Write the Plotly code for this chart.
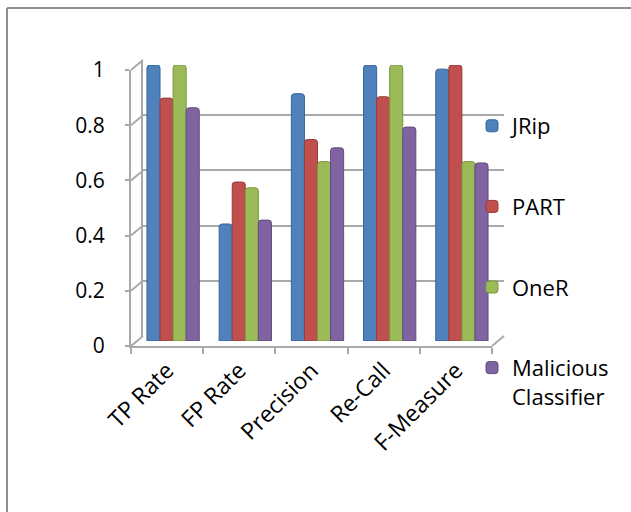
import plotly.graph_objects as go

# ---- data -------------------------------------------------------------
metrics = ["TP Rate", "FP Rate", "Precision", "Re-Call", "F-Measure"]
jrip = [1.0, 0.424, 0.896, 1.0, 0.985]
part = [0.88, 0.576, 0.73, 0.885, 1.0]
oner = [1.0, 0.555, 0.65, 1.0, 0.65]
malicious = [0.845, 0.438, 0.70, 0.775, 0.645]

series_names = ["JRip", "PART", "OneR", "Malicious<br>Classifier"]
series_values = [jrip, part, oner, malicious]
series_colors = ["#4F81BD", "#C0504D", "#9BBB59", "#8064A2"]
series_edges = ["#3A6497", "#9A3B38", "#7A9640", "#63497F"]

y_ticks = [0, 0.2, 0.4, 0.6, 0.8, 1.0]

# ---- page geometry (pixels) --------------------------------------------
W, H = 631, 512
FX0, FX1 = 131, 492        # front face, left / right
FY0, FY1 = 346, 70         # front face, value 0 / value 1
DX, DY = 12, -10           # depth offset of the back wall


def px(x):
    return x / W


def py(y):
    return 1 - y / H


def dom_x(shift):
    return [px(FX0 + shift), px(FX1 + shift)]


def dom_y(shift):
    return [py(FY0 + shift), py(FY1 + shift)]


FONT = "Open Sans, Noto Sans, sans-serif"
GRID = "#a9a9a9"

fig = go.Figure()

# empty carriers so the back-wall and front-face subplots get drawn
for xa, ya in (("x", "y"), ("x2", "y2")):
    fig.add_trace(go.Scatter(x=metrics, y=[None] * len(metrics), mode="lines",
                             xaxis=xa, yaxis=ya, showlegend=False,
                             hoverinfo="skip"))

# bars sit half way between the front face and the back wall
for name, vals, col, edge in zip(series_names, series_values, series_colors, series_edges):
    fig.add_trace(go.Bar(
        x=metrics, y=vals, name=name,
        marker=dict(color=col, line=dict(color=edge, width=1)),
        xaxis="x3", yaxis="y3", legendgroup=name,
    ))

common = dict(automargin=False, zeroline=False, fixedrange=True)

layout_axes = dict(
    # back wall: horizontal grid lines
    xaxis=dict(domain=dom_x(DX), range=[-0.5, 4.5], type="category",
               categoryarray=metrics, showgrid=False, showline=False,
               showticklabels=False, anchor="y", **common),
    yaxis=dict(domain=dom_y(DY), range=[0, 1], tickvals=y_ticks, showgrid=True,
               gridcolor=GRID, gridwidth=2, showline=True, linecolor=GRID, linewidth=2,
               showticklabels=False, anchor="x", **common),
    # front face: axis lines, ticks and labels
    xaxis2=dict(domain=dom_x(0), range=[-0.5, 4.5], type="category",
                categoryarray=metrics, showgrid=False, showline=True,
                linecolor=GRID, linewidth=2, ticks="outside", tickson="boundaries",
                ticklen=6, tickcolor=GRID, tickwidth=2, tickangle=-45,
                tickfont=dict(family=FONT, size=23, color="#000000"),
                anchor="y2", **common),
    yaxis2=dict(domain=dom_y(0), range=[0, 1], tickvals=y_ticks,
                showgrid=False, showline=True, linecolor=GRID, linewidth=2,
                ticks="outside", ticklen=4, tickcolor=GRID, tickwidth=2,
                ticklabelstandoff=16,
                tickfont=dict(family=FONT, size=21, color="#000000"),
                anchor="x2", **common),
    # bar layer, half the depth offset
    xaxis3=dict(domain=dom_x(DX / 2), range=[-0.5, 4.5], type="category",
                categoryarray=metrics, showgrid=False, showline=False,
                showticklabels=False, anchor="y3", **common),
    yaxis3=dict(domain=dom_y(DY / 2), range=[0, 1], showgrid=False, showline=False,
                showticklabels=False, anchor="x3", **common),
)

# side wall and floor edges joining the front face to the back wall
shapes = []
for v in y_ticks:
    yf = FY0 + (FY1 - FY0) * v
    shapes.append(dict(type="line", xref="paper", yref="paper",
                       x0=px(FX0), y0=py(yf), x1=px(FX0 + DX), y1=py(yf + DY),
                       line=dict(color=GRID, width=2)))
shapes.append(dict(type="line", xref="paper", yref="paper",
                   x0=px(FX1), y0=py(FY0), x1=px(FX1 + DX), y1=py(FY0 + DY),
                   line=dict(color=GRID, width=2)))
# chart frame (left and top edges)
shapes.append(dict(type="line", xref="paper", yref="paper",
                   x0=px(7), y0=py(8), x1=px(7), y1=0,
                   line=dict(color="#8f8f8f", width=2)))
shapes.append(dict(type="line", xref="paper", yref="paper",
                   x0=px(7), y0=py(8), x1=1, y1=py(8),
                   line=dict(color="#8f8f8f", width=2)))

fig.update_layout(
    width=W, height=H,
    margin=dict(l=0, r=0, t=0, b=0),
    paper_bgcolor="#ffffff", plot_bgcolor="rgba(0,0,0,0)",
    barmode="group", bargap=0.276, bargroupgap=0, barcornerradius=3,
    showlegend=True,
    legend=dict(x=px(472), y=py(105), xanchor="left", yanchor="top",
                font=dict(family=FONT, size=22, color="#000000"),
                traceorder="grouped", tracegroupgap=49, valign="top",
                bgcolor="rgba(0,0,0,0)"),
    shapes=shapes,
    **layout_axes,
)

fig.write_html("out.html")
